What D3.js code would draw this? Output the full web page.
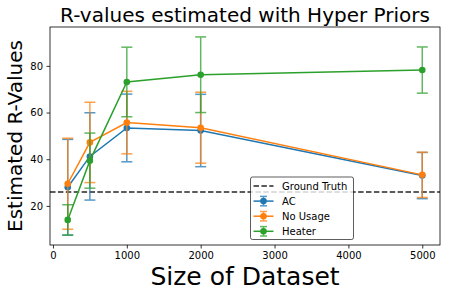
<!DOCTYPE html>
<html>
<head>
<meta charset="utf-8">
<script src="https://cdn.jsdelivr.net/npm/d3@7"></script>
<style>
  body { margin: 0; background: #fff; }
  text { font-family: "DejaVu Sans", sans-serif; }
</style>
</head>
<body>
<svg id="chart"></svg>
<script>
// --------------------
// Data
// --------------------
const sizes = [200, 500, 1000, 2000, 5000];
const xTicks = [0, 1000, 2000, 3000, 4000, 5000];
const yTicks = [20, 40, 60, 80];

const acMean = [28, 41.2, 53.4, 52.3, 33.0];
const acErr = [20.5, 18.7, 14.5, 15.5, 9.9];

const noUsageMean = [29.5, 47.2, 55.7, 53.5, 33.3];
const noUsageErr = [19.5, 17.2, 13.4, 15.2, 9.7];

const heaterMean = [14, 39.4, 73.1, 76.2, 78.2];
const heaterErr = [6.5, 11.8, 14.9, 16.2, 9.9];

const groundTruth = 26;

const seriesNames = ["AC", "No Usage", "Heater"];
const seriesColors = ["#1f77b4", "#ff7f0e", "#2ca02c"];

// --------------------
// Basic setup
// --------------------
const width = 451;
const height = 297;
const plot = { left: 50, right: 440, top: 27, bottom: 245 };

const svg = d3.select("#chart")
  .attr("width", width)
  .attr("height", height);

const series = [
  { name: seriesNames[0], color: seriesColors[0], mean: acMean, err: acErr },
  { name: seriesNames[1], color: seriesColors[1], mean: noUsageMean, err: noUsageErr },
  { name: seriesNames[2], color: seriesColors[2], mean: heaterMean, err: heaterErr }
];

// matplotlib-style 5% margins
const xExt = d3.extent(sizes);
const xPad = (xExt[1] - xExt[0]) * 0.05;
const lows = series.flatMap(s => s.mean.map((m, i) => m - s.err[i]));
const highs = series.flatMap(s => s.mean.map((m, i) => m + s.err[i]));
const yMin = d3.min(lows), yMax = d3.max(highs);
const yPad = (yMax - yMin) * 0.05;

const x = d3.scaleLinear()
  .domain([xExt[0] - xPad, xExt[1] + xPad])
  .range([plot.left, plot.right]);

const y = d3.scaleLinear()
  .domain([yMin - yPad, yMax + yPad])
  .range([plot.bottom, plot.top]);

// --------------------
// Axes
// --------------------
const xAxis = svg.append("g")
  .attr("transform", `translate(0,${plot.bottom})`)
  .call(d3.axisBottom(x).tickValues(xTicks).tickFormat(d3.format("d"))
    .tickSize(3.5).tickPadding(3.5).tickSizeOuter(0));

const yAxis = svg.append("g")
  .attr("transform", `translate(${plot.left},0)`)
  .call(d3.axisLeft(y).tickValues(yTicks).tickFormat(d3.format("d"))
    .tickSize(3.5).tickPadding(3.5).tickSizeOuter(0));

[xAxis, yAxis].forEach(ax => {
  ax.select(".domain").remove();
  ax.selectAll("line").attr("stroke", "#000").attr("stroke-width", 0.8);
  ax.selectAll("text")
    .attr("fill", "#000")
    .style("font-size", "10px")
    .style("font-family", "DejaVu Sans, sans-serif");
});

// --------------------
// Ground truth
// --------------------
svg.append("line")
  .attr("x1", plot.left).attr("x2", plot.right)
  .attr("y1", y(groundTruth)).attr("y2", y(groundTruth))
  .attr("stroke", "#000")
  .attr("stroke-opacity", 0.85)
  .attr("stroke-width", 1.5)
  .attr("stroke-dasharray", "5.5,2.4");

// --------------------
// Series with error bars
// --------------------
const capHalf = 5.5;
const line = d3.line()
  .x((d, i) => x(sizes[i]))
  .y(d => y(d));

series.forEach(s => {
  const g = svg.append("g");

  const bars = g.append("g").attr("opacity", 0.75);
  s.mean.forEach((m, i) => {
    const cx = x(sizes[i]);
    const lo = y(m - s.err[i]);
    const hi = y(m + s.err[i]);
    bars.append("line")
      .attr("x1", cx).attr("x2", cx).attr("y1", lo).attr("y2", hi)
      .attr("stroke", s.color).attr("stroke-width", 1.5);
    [lo, hi].forEach(yy => {
      bars.append("line")
        .attr("x1", cx - capHalf).attr("x2", cx + capHalf)
        .attr("y1", yy).attr("y2", yy)
        .attr("stroke", s.color).attr("stroke-width", 1.5);
    });
  });

  g.append("path")
    .datum(s.mean)
    .attr("d", line)
    .attr("fill", "none")
    .attr("stroke", s.color)
    .attr("stroke-width", 1.5);

  g.selectAll("circle")
    .data(s.mean)
    .join("circle")
      .attr("cx", (d, i) => x(sizes[i]))
      .attr("cy", d => y(d))
      .attr("r", 3.3)
      .attr("fill", s.color);
});

// --------------------
// Frame
// --------------------
svg.append("rect")
  .attr("x", plot.left).attr("y", plot.top)
  .attr("width", plot.right - plot.left)
  .attr("height", plot.bottom - plot.top)
  .attr("fill", "none")
  .attr("stroke", "#000")
  .attr("stroke-width", 0.8);

// --------------------
// Labels
// --------------------
svg.append("text")
  .attr("x", (plot.left + plot.right) / 2)
  .attr("y", 22)
  .attr("text-anchor", "middle")
  .style("font-size", "20px")
  .text("R-values estimated with Hyper Priors");

svg.append("text")
  .attr("x", (plot.left + plot.right) / 2)
  .attr("y", 285)
  .attr("text-anchor", "middle")
  .style("font-size", "25px")
  .text("Size of Dataset");

svg.append("text")
  .attr("transform", `translate(22,${(plot.top + plot.bottom) / 2}) rotate(-90)`)
  .attr("text-anchor", "middle")
  .style("font-size", "20px")
  .text("Estimated R-Values");

// --------------------
// Legend
// --------------------
const legend = svg.append("g").attr("transform", "translate(250.5,177)");
legend.append("rect")
  .attr("width", 103).attr("height", 62.5)
  .attr("rx", 2).attr("ry", 2)
  .attr("fill", "#fff").attr("fill-opacity", 0.8)
  .attr("stroke", "#000").attr("stroke-opacity", 0.8).attr("stroke-width", 0.8);

const rowY = i => 9 + i * 15.1;
const hx0 = 3, hx1 = 23, hxc = 13, tx = 31.5;

legend.append("line")
  .attr("x1", hx0).attr("x2", hx1).attr("y1", rowY(0)).attr("y2", rowY(0))
  .attr("stroke", "#000").attr("stroke-opacity", 0.85)
  .attr("stroke-width", 1.5).attr("stroke-dasharray", "5.5,2.4");
legend.append("text")
  .attr("x", tx).attr("y", rowY(0)).attr("dy", "0.35em")
  .style("font-size", "10px").text("Ground Truth");

series.forEach((s, k) => {
  const ry = rowY(k + 1);
  const eb = legend.append("g").attr("opacity", 0.75);
  eb.append("line")
    .attr("x1", hxc).attr("x2", hxc).attr("y1", ry - 4.7).attr("y2", ry + 4.7)
    .attr("stroke", s.color).attr("stroke-width", 1.5);
  [ry - 4.7, ry + 4.7].forEach(yy => {
    eb.append("line")
      .attr("x1", hxc - 3.5).attr("x2", hxc + 3.5).attr("y1", yy).attr("y2", yy)
      .attr("stroke", s.color).attr("stroke-width", 1.5);
  });
  legend.append("line")
    .attr("x1", hx0).attr("x2", hx1).attr("y1", ry).attr("y2", ry)
    .attr("stroke", s.color).attr("stroke-width", 1.5);
  legend.append("circle")
    .attr("cx", hxc).attr("cy", ry).attr("r", 3.3).attr("fill", s.color);
  legend.append("text")
    .attr("x", tx).attr("y", ry).attr("dy", "0.35em")
    .style("font-size", "10px").text(s.name);
});
</script>
</body>
</html>
